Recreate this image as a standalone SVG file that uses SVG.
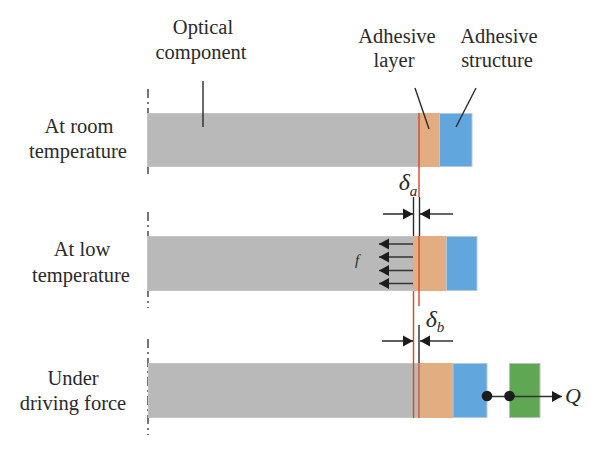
<svg xmlns="http://www.w3.org/2000/svg" width="600" height="457" viewBox="0 0 600 457">
<style>
text{font-family:"Liberation Serif","Times New Roman",serif;fill:#2a2a2a;font-size:20.5px;text-anchor:middle}
.i{font-style:italic}
.g{fill:#b9b9b9;stroke:#c4c4c4}
.o{fill:#e2ad80}
.b{fill:#62a6de;stroke:#b5c9d8}
.k{stroke:#2b2b2b;stroke-width:1.4;fill:none}
.r{stroke:#cf4a26;stroke-width:1.4;fill:none}
.d{stroke:#555;stroke-width:1.6;fill:none;stroke-dasharray:9 4 2 4}
.a{stroke:#333;stroke-width:1.6;fill:none}
</style>
<defs>
<marker id="ah" markerUnits="userSpaceOnUse" markerWidth="11" markerHeight="12" refX="10" refY="6" orient="auto"><path d="M0 0.500L10 6L0 11.500z" fill="#1c1c1c"/></marker>
</defs>
<g id="axis-lines"><path class="d" d="M148 89V178"/><path class="d" d="M148 212V308"/><path class="d" d="M148 339V435"/></g>
<g id="row-room">
<rect class="g" x="147.500" y="113.500" width="275" height="53"/><rect class="o" x="419" y="113" width="20" height="54"/><rect class="b" x="439.500" y="113.500" width="32.500" height="53"/>
<text x="79" y="133">At room</text><text x="78" y="158">temperature</text>
</g>
<g id="row-low">
<rect class="g" x="147.500" y="236.500" width="270" height="54"/><rect class="o" x="414" y="236" width="32" height="55"/><rect class="b" x="446.500" y="236.500" width="30.500" height="54"/>
<text x="82" y="256">At low</text><text x="81" y="282">temperature</text>
<text class="i" x="357" y="265" style="font-size:15px">f</text>
</g>
<g id="row-force">
<rect class="g" x="148.500" y="363.500" width="270" height="54"/><rect class="o" x="419.500" y="363" width="33.500" height="55"/><rect class="b" x="453" y="363.500" width="34" height="54"/>
<rect id="green-block" x="509.500" y="363.500" width="30.500" height="54" fill="#5fa752" stroke="#b5c4b0"/>
<text x="73" y="385">Under</text><text x="73" y="410">driving force</text>
</g>
<g id="labels">
<text x="203" y="34">Optical</text><text x="201" y="59">component</text>
<text x="397" y="43">Adhesive</text><text x="394" y="67">layer</text>
<text x="499" y="43">Adhesive</text><text x="497" y="67">structure</text>
<text class="i" x="408" y="190" style="font-size:24px">δ<tspan dy="6" style="font-size:15px">a</tspan></text>
<text class="i" x="435" y="327" style="font-size:24px">δ<tspan dy="5" style="font-size:15px">b</tspan></text>
<text class="i" x="573" y="403" style="font-size:22px">Q</text>
</g>
<g id="connectors">
<path class="k" d="M203 81V127"/><path class="k" d="M415 88L429 129"/><path class="k" d="M476 88L456 127"/>
<path class="r" d="M419 113V197"/><path class="k" d="M413.500 197V236"/><path class="k" d="M419.500 197V236"/>
<path class="r" d="M413.500 291V363"/><path class="r" d="M419 236V306"/>
<path class="k" d="M419 325V363"/><path class="r" d="M413.500 363V418"/><path class="r" d="M419 363V418"/>
<path class="a" marker-end="url(#ah)" d="M383 214H413"/><path class="a" marker-end="url(#ah)" d="M453 214H420"/>
<path class="a" marker-end="url(#ah)" d="M382 341H413"/><path class="a" marker-end="url(#ah)" d="M453 341H420"/>
<path class="a" marker-end="url(#ah)" d="M413 244H379"/><path class="a" marker-end="url(#ah)" d="M413 257H379"/><path class="a" marker-end="url(#ah)" d="M413 270.500H379"/><path class="a" marker-end="url(#ah)" d="M413 283.500H379"/>
<path class="a" marker-end="url(#ah)" d="M487 396.500H562"/>
<circle cx="487" cy="396" r="5.300" fill="#1c1c1c"/><circle cx="509.500" cy="396" r="5.300" fill="#1c1c1c"/>
</g>
</svg>
